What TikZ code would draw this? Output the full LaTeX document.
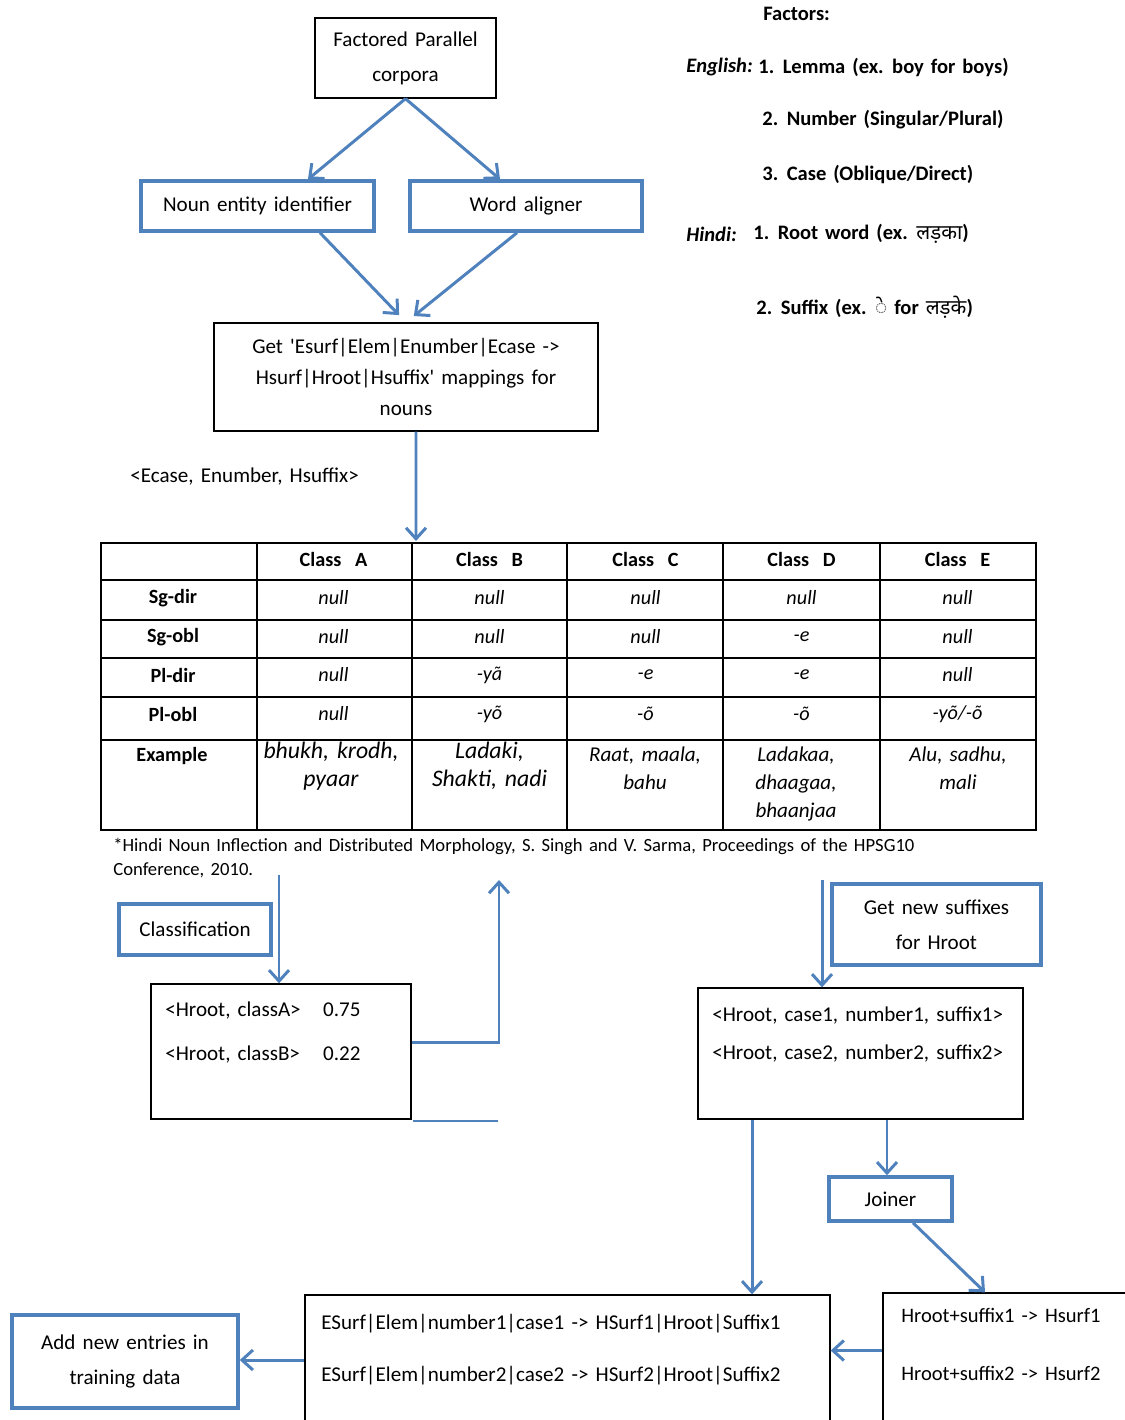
\documentclass[tikz,border=0pt]{standalone}
\usepackage{fontspec}
\setmainfont{Carlito}[WordSpace=1.5]
\newfontfamily\hindifont[Script=Devanagari]{Noto Sans}
\usepackage{tikz}
\usetikzlibrary{positioning}
\usetikzlibrary{arrows.meta}
\definecolor{boxblue}{RGB}{79,129,189}

\tikzset{
  blackbox/.style={draw, line width=0.8pt, align=center, font=\fontsize{12}{20}\selectfont},
  bluebox/.style={draw=boxblue, line width=2pt, align=center, font=\fontsize{12}{20}\selectfont},
  arr/.style={-{Straight Barb[length=2.2mm,width=4mm]}, boxblue, line width=1.7pt},
  tabline/.style={line width=0.9pt},
  txt/.style={inner sep=0pt, anchor=west, font=\fontsize{12}{14}\selectfont},
  factor/.style={inner sep=0pt, anchor=west, font=\bfseries\fontsize{11.7}{14}\selectfont},
  cell/.style={inner sep=0pt, font=\itshape\fontsize{11.5}{14}\selectfont},
  cellhead/.style={inner sep=0pt, font=\bfseries\fontsize{11.5}{14}\selectfont},
  example/.style={inner sep=0pt, anchor=north, align=center, font=\itshape\fontsize{12}{16}\selectfont},
}

\begin{document}
\begin{tikzpicture}[x=0.02cm, y=-0.02cm]
  \useasboundingbox (0,0) rectangle (1125,1420);
  \clip (0,0) rectangle (1125,1420);

  % top of the flow
  \node[blackbox, minimum width=3.62cm, minimum height=1.6cm] (corpora) at (405.5,58) {Factored Parallel\\corpora};
  \node[bluebox, minimum width=4.66cm, minimum height=1cm] (noun) at (257.5,206) {Noun entity identifier};
  \node[bluebox, minimum width=4.64cm, minimum height=1cm] (aligner) at (526,206) {Word aligner};
  \node[blackbox, minimum width=7.68cm, minimum height=2.16cm, font=\fontsize{12}{17.5}\selectfont] (mapping) at (406,377)
    {Get \textquotesingle Esurf|Elem|Enumber|Ecase ->\\Hsurf|Hroot|Hsuffix\textquotesingle\ mappings for\\nouns};
  \node[txt] (triple) at (130,477) {<Ecase, Enumber, Hsuffix>};

  \draw[arr] (corpora.south) -- ([xshift=1.01cm]noun.north);
  \draw[arr] (corpora.south) -- ([xshift=-0.52cm]aligner.north);
  \draw[arr, shorten >=0.2cm] ([xshift=1.25cm]noun.south) -- (mapping.north);
  \draw[arr, shorten >=0.2cm] ([xshift=-0.18cm]aligner.south) -- (mapping.north);
  \coordinate (tabletop) at (416,541);
  \draw[arr] ([xshift=0.2cm]mapping.south) -- (tabletop);

  % table of classes
  \draw[tabline] (101,543) rectangle (1036,830);
  \foreach \y in {580,620,658,697,740} \draw[tabline] (101,\y) -- (1036,\y);
  \foreach \x in {257,412,567,723,880} \draw[tabline] (\x,543) -- (\x,830);
  \foreach \c [count=\i from 0] in {A,B,C,D,E} \node[cellhead] at (333.5+156*\i,559) {Class\ \ \c};
  \foreach \r/\y in {Sg-dir/598, Sg-obl/637, Pl-dir/675, Pl-obl/714} \node[cellhead] at (173,\y) {\r};
  \node[cellhead, anchor=north] at (172,747) {Example};
  \foreach \t [count=\i from 0] in {null,null,null,null,null} \node[cell] at (333.5+156*\i,598) {\t};
  \foreach \t [count=\i from 0] in {null,null,null,-e,null} \node[cell] at (333.5+156*\i,637) {\t};
  \foreach \t [count=\i from 0] in {null,-yã,-e,-e,null} \node[cell] at (333.5+156*\i,675) {\t};
  \foreach \t [count=\i from 0] in {null,-yõ,-õ,-õ} \node[cell] at (333.5+156*\i,714) {\t};
  \node[cell] at (957.5,714) {-yõ/-õ};
  \node[example, font=\itshape\fontsize{13.5}{16}\selectfont] at (331,742) {bhukh, krodh,\\pyaar};
  \node[example, font=\itshape\fontsize{13.5}{16}\selectfont] at (489.5,742) {Ladaki,\\Shakti, nadi};
  \node[example] at (645,746) {Raat, maala,\\bahu};
  \node[example] at (796,746) {Ladakaa,\\dhaagaa,\\bhaanjaa};
  \node[example] at (958,746) {Alu, sadhu,\\mali};
  \node[inner sep=0pt, anchor=north west, align=left, font=\fontsize{10.6}{13.5}\selectfont] (note) at (113,838)
    {*Hindi Noun Inflection and Distributed Morphology, S. Singh and V. Sarma, Proceedings of the HPSG10\\Conference, 2010.};

  % classification branch
  \node[bluebox, minimum width=3.04cm, minimum height=1.02cm] (classify) at (195,929.5) {Classification};
  \node[blackbox, minimum width=5.2cm, minimum height=2.7cm] (prob) at (281,1051.5) {};
  \node[txt, anchor=north west, font=\fontsize{12}{25}\selectfont] at (165,985)
    {\begin{tabular}{@{}l@{\hspace{0.45cm}}l@{}}<Hroot, classA> & 0.75\\<Hroot, classB> & 0.22\end{tabular}};
  \coordinate (clsin) at (279,875);
  \draw[arr] (clsin) -- (clsin |- prob.north);
  \coordinate (upend) at (499,880);
  \draw[arr] ([yshift=0.19cm]prob.east) -| (upend);
  \coordinate (straystart) at (413,1121);
  \coordinate (strayend) at (498,1121);
  \draw[boxblue, line width=1pt] (straystart) -- (strayend);

  % suffix branch
  \node[bluebox, minimum width=4.18cm, minimum height=1.62cm] (getnew) at (936.5,924.5) {Get new suffixes\\for Hroot};
  \node[blackbox, minimum width=6.5cm, minimum height=2.62cm] (hcase) at (860.5,1053.5) {};
  \node[txt, anchor=north west, align=left, font=\fontsize{12}{22}\selectfont] at (712,1006)
    {<Hroot, case1, number1, suffix1>\\<Hroot, case2, number2, suffix2>};
  \coordinate (sufin) at (822,880);
  \draw[arr] (sufin) -- (sufin |- hcase.north);
  \node[bluebox, minimum width=2.46cm, minimum height=0.88cm] (joiner) at (890.5,1199) {Joiner};

  % bottom row
  \node[blackbox, minimum width=10.5cm, minimum height=2.6cm] (esurf) at (567.5,1360) {};
  \node[txt, anchor=north west, align=left, font=\fontsize{12}{29.5}\selectfont] at (321,1314)
    {ESurf|Elem|number1|case1 -> HSurf1|Hroot|Suffix1\\ESurf|Elem|number2|case2 -> HSurf2|Hroot|Suffix2};
  \node[blackbox, minimum width=5cm, minimum height=2.64cm] (hsuf) at (1008,1359) {};
  \node[txt, anchor=north west, align=left, font=\fontsize{11.7}{33}\selectfont] at (901,1308)
    {Hroot+suffix1 -> Hsurf1\\Hroot+suffix2 -> Hsurf2};
  \node[bluebox, minimum width=4.52cm, minimum height=1.86cm] (addnew) at (125,1361.5) {Add new entries in\\training data};

  \draw[arr] ([xshift=-2.17cm]hcase.south) coordinate (d1) -- (d1 |- esurf.north);
  \draw[arr] ([xshift=0.53cm]hcase.south) coordinate (d2) -- (d2 |- joiner.north);
  \draw[arr] ([xshift=0.45cm]joiner.south) -- ([xshift=-0.46cm]hsuf.north);
  \draw[arr] ([yshift=0.17cm]hsuf.west) coordinate (h1) -- (h1 -| esurf.east);
  \draw[arr] (esurf.west) -- (esurf.west -| addnew.east);

  % factors
  \node[factor] (factors) at (763,14) {Factors:};
  \node[factor, font=\bfseries\itshape\fontsize{11.7}{14}\selectfont] (eng) at (686,67) {English:};
  \node[factor] (lemma) at (758,67) {1. Lemma (ex. boy for boys)};
  \node[factor] (number) at (762,120) {2. Number (Singular/Plural)};
  \node[factor] (case) at (762,174) {3. Case (Oblique/Direct)};
  \node[factor, font=\bfseries\itshape\fontsize{11.7}{14}\selectfont] (hin) at (686,234) {Hindi:};
  \node[factor] (root) at (753,234) {1. Root word (ex. {\hindifont लड़का})};
  \node[factor] (suffix) at (756,307) {2. Suffix (ex. {\hindifont ◌े} for {\hindifont लड़के})};
\end{tikzpicture}
\end{document}
